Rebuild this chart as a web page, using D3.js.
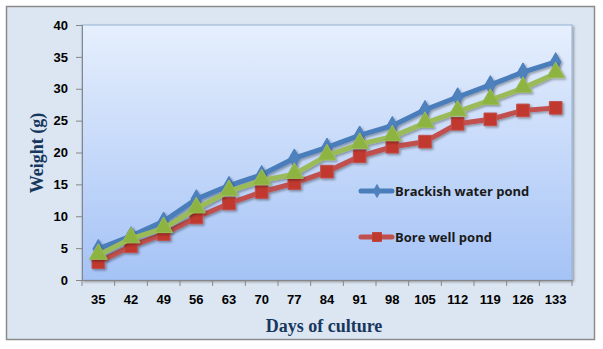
<!DOCTYPE html>
<html>
<head>
<meta charset="utf-8">
<script src="https://cdn.jsdelivr.net/npm/d3@7"></script>
<style>
  body { margin: 0; background: #fff; }
  svg { display: block; }
</style>
</head>
<body>
<div id="chart"></div>
<script>
// days of culture
var days = [35, 42, 49, 56, 63, 70, 77, 84, 91, 98, 105, 112, 119, 126, 133];
// weight (g)
var brackish = [4.9, 6.9, 9.2, 12.7, 14.8, 16.5, 19.1, 20.8, 22.7, 24.2, 26.7, 28.7, 30.6, 32.6, 34.2];
var borewell = [2.8, 5.3, 7.2, 9.8, 12.0, 13.8, 15.2, 17.0, 19.4, 20.9, 21.7, 24.5, 25.2, 26.6, 27.0];
var third = [3.9, 6.5, 8.1, 11.2, 13.9, 15.6, 16.6, 19.5, 21.3, 22.5, 24.6, 26.4, 28.2, 30.1, 32.4];
var yTicks = [0, 5, 10, 15, 20, 25, 30, 35, 40];

var svgWidth = 603, svgHeight = 349;
var margin = {top: 25, right: 31, bottom: 69, left: 82};
var width = 572 - margin.left;
var height = 280 - margin.top;

var svg = d3.select("#chart").append("svg")
    .attr("width", svgWidth)
    .attr("height", svgHeight);

var defs = svg.append("defs");
var grad = defs.append("linearGradient").attr("id", "plotbg")
    .attr("x1", 0).attr("y1", 0).attr("x2", 0).attr("y2", 1);
grad.append("stop").attr("offset", "0%").attr("stop-color", "#e6effd");
grad.append("stop").attr("offset", "100%").attr("stop-color", "#a5c3f6");

var shadow = defs.append("filter").attr("id", "shadow")
    .attr("x", "-30%").attr("y", "-30%").attr("width", "160%").attr("height", "160%");
shadow.append("feDropShadow").attr("dx", 1.5).attr("dy", 1.5)
    .attr("stdDeviation", 1).attr("flood-color", "#000").attr("flood-opacity", 0.35);

// outer frame
svg.append("rect")
    .attr("x", 6.5).attr("y", 6.5)
    .attr("width", 588).attr("height", 333)
    .attr("fill", "#dce6f2")
    .attr("stroke", "#8c8c8c")
    .attr("stroke-width", 1.5);

var chartGroup = svg.append("g")
    .attr("transform", `translate(${margin.left}, ${margin.top})`);

// plot area
chartGroup.append("rect")
    .attr("width", width).attr("height", height)
    .attr("fill", "url(#plotbg)")
    .attr("stroke", "#95b3d7")
    .attr("stroke-width", 1)
    .style("filter", "url(#shadow)");

var x = d3.scaleBand().domain(days).range([0, width]);
var y = d3.scaleLinear().domain([0, 40]).range([height, 0]);

// y axis
var yAxis = chartGroup.append("g")
    .call(d3.axisLeft(y).tickValues(yTicks).tickSize(6).tickPadding(8));
yAxis.select(".domain").attr("stroke", "#868686");
yAxis.selectAll(".tick line").attr("stroke", "#868686");
yAxis.selectAll("text")
    .style("font", "bold 13px 'Liberation Sans', Arial, sans-serif")
    .attr("fill", "#000");

// x axis, ticks between categories
var xAxis = chartGroup.append("g")
    .attr("transform", `translate(0, ${height})`)
    .call(d3.axisBottom(x).tickSize(0).tickPadding(15));
xAxis.select(".domain").attr("stroke", "#868686");
xAxis.selectAll("text")
    .style("font", "bold 13px 'Liberation Sans', Arial, sans-serif")
    .attr("fill", "#000");
chartGroup.append("g").selectAll("line")
    .data(d3.range(days.length + 1))
    .enter().append("line")
    .attr("x1", function(i) { return i * x.step(); })
    .attr("x2", function(i) { return i * x.step(); })
    .attr("y1", height).attr("y2", height + 6)
    .attr("stroke", "#868686");

// axis titles
svg.append("text")
    .attr("x", 324).attr("y", 332)
    .attr("text-anchor", "middle")
    .style("font", "bold 18px 'Liberation Serif', 'Times New Roman', serif")
    .attr("fill", "#17375e")
    .text("Days of culture");
svg.append("text")
    .attr("transform", "translate(43, 153) rotate(-90)")
    .attr("text-anchor", "middle")
    .style("font", "bold 18px 'Liberation Serif', 'Times New Roman', serif")
    .attr("fill", "#17375e")
    .text("Weight (g)");

var series = [
  {name: "Brackish water pond", values: brackish, color: "#4a7ebb", fill: "#4f81bd", shape: d3.symbolDiamond, size: 100},
  {name: "Bore well pond", values: borewell, color: "#c0504d", fill: "#c0392f", shape: d3.symbolSquare, size: 160},
  {name: "", values: third, color: "#9bbb59", fill: "#8db33f", shape: d3.symbolTriangle, size: 140}
];

var line = d3.line()
    .x(function(d, i) { return x(days[i]) + x.bandwidth() / 2; })
    .y(function(d) { return y(d); });

series.forEach(function(s) {
  var g = chartGroup.append("g").style("filter", "url(#shadow)");
  g.append("path")
      .datum(s.values)
      .attr("d", line)
      .attr("fill", "none")
      .attr("stroke", s.color)
      .attr("stroke-width", 5)
      .attr("stroke-linejoin", "round");
  g.selectAll("path.pt")
      .data(s.values)
      .enter().append("path")
      .attr("class", "pt")
      .attr("d", d3.symbol().type(s.shape).size(s.size))
      .attr("transform", function(d, i) {
        var dy = s.shape === d3.symbolTriangle ? -1 : 0;
        return `translate(${x(days[i]) + x.bandwidth() / 2}, ${y(d) + dy})`;
      })
      .attr("fill", s.fill)
      .attr("stroke", s.color)
      .attr("stroke-width", 1);
});

// legend
var legend = svg.append("g");
series.slice(0, 2).forEach(function(s, i) {
  var ly = 191 + i * 46;
  legend.append("line")
      .attr("x1", 361).attr("x2", 392)
      .attr("y1", ly).attr("y2", ly)
      .attr("stroke", s.color)
      .attr("stroke-width", 5)
      .attr("stroke-linecap", "round");
  legend.append("path")
      .attr("d", d3.symbol().type(s.shape).size(s.size * 0.6))
      .attr("transform", `translate(377, ${ly})`)
      .attr("fill", s.fill);
  legend.append("text")
      .attr("x", 395).attr("y", ly + 4.5)
      .style("font", "bold 13px 'Open Sans', 'Liberation Sans', sans-serif")
      .attr("fill", "#1a1a1a")
      .text(s.name);
});
</script>
</body>
</html>
